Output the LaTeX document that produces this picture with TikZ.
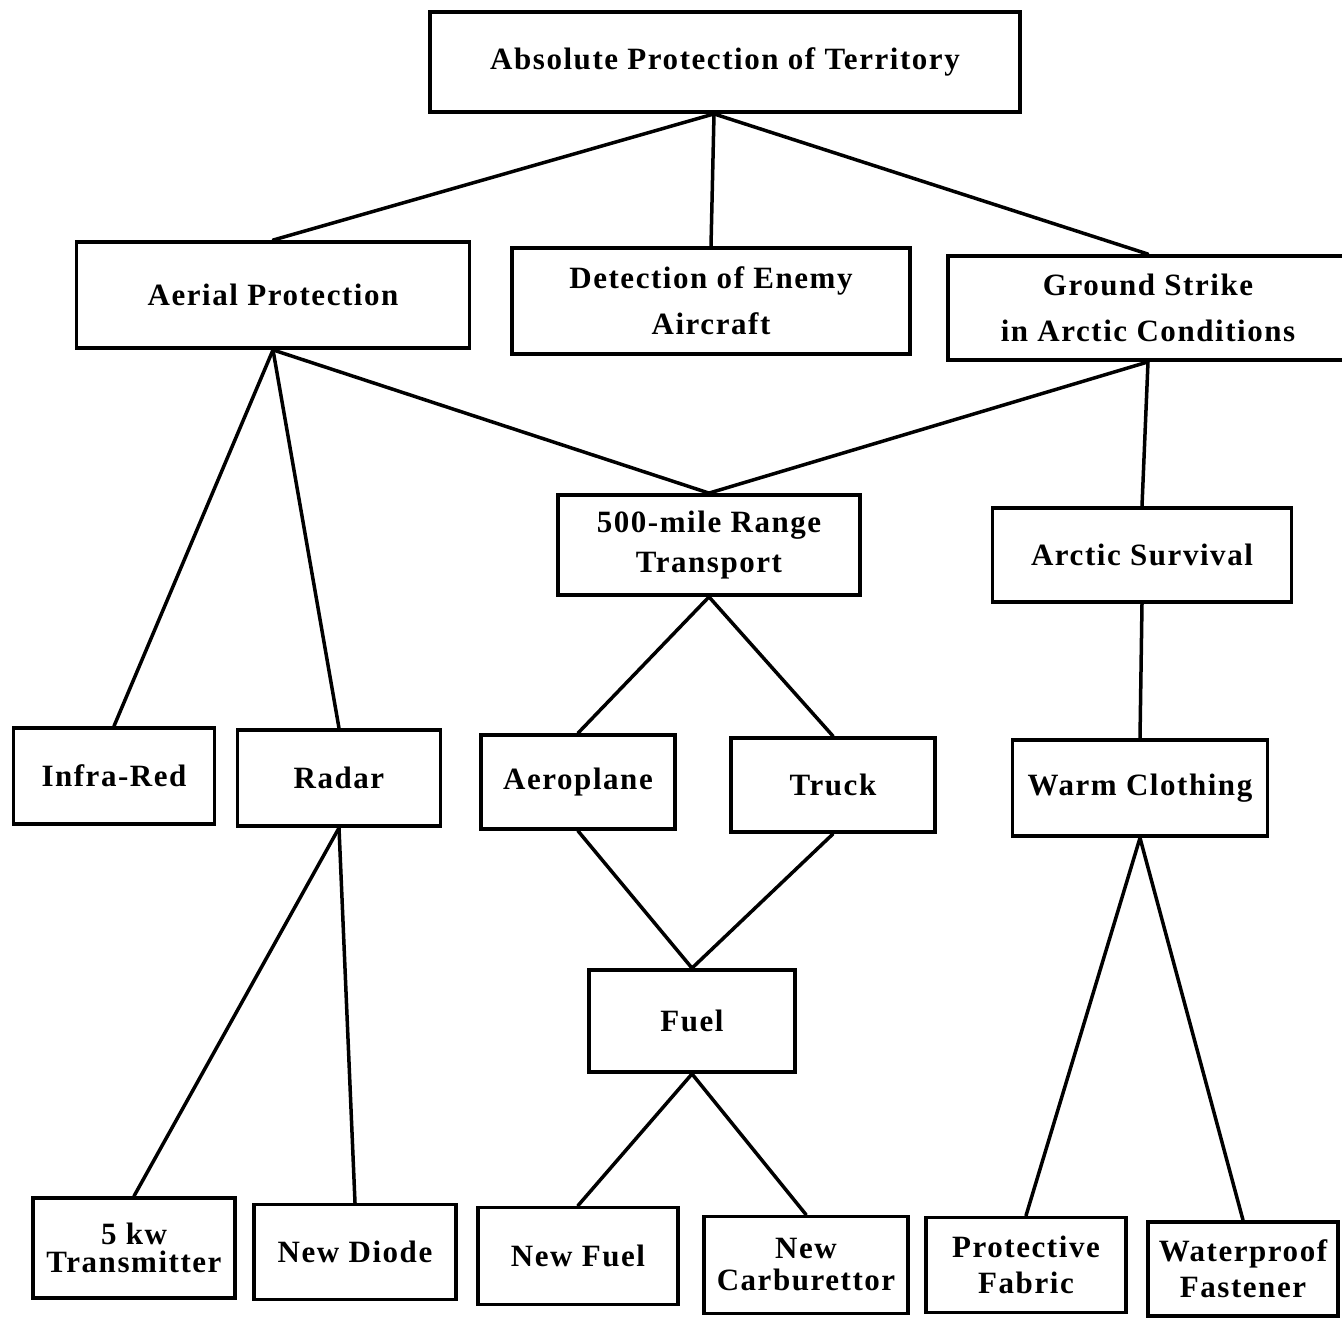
\documentclass[tikz,border=0pt]{standalone}
\usepackage{fontspec}
\setmainfont{Liberation Serif}[LetterSpace=5]
\usetikzlibrary{calc}
\begin{document}
\begin{tikzpicture}[x=1pt,y=-1pt,
  box/.style={draw, line width=3.8pt, align=center, inner sep=0pt,
    font=\fontsize{31}{46}\selectfont\bfseries},
  link/.style={line width=3.5pt, line cap=round}]
\useasboundingbox (0,0) rectangle (1342,1318);
% boxes: center (cx,cy), width, height
\node[box, minimum width=590pt, minimum height=100pt] (top) at (725,62) {Absolute Protection of Territory};
\node[box, minimum width=393pt, minimum height=106pt] (aer) at (273,295) {Aerial Protection};
\node[box, minimum width=398pt, minimum height=106pt] (det) at (711,301) {Detection of Enemy\\Aircraft};
\node[box, minimum width=400pt, minimum height=104pt] (gro) at (1148,308) {Ground Strike\\in Arctic Conditions};
\node[box, minimum width=302pt, minimum height=100pt] (tra) at (709,545) {500-mile Range\\[-6pt]Transport};
\node[box, minimum width=299pt, minimum height=94pt] (arc) at (1142,555) {Arctic Survival};
\node[box, minimum width=201pt, minimum height=96pt] (inf) at (114,776) {Infra-Red};
\node[box, minimum width=203pt, minimum height=96pt] (rad) at (339,778) {Radar};
\node[box, minimum width=194pt, minimum height=94pt] (aep) at (578,782) {Aeroplane};
\node[box, minimum width=204pt, minimum height=94pt] (tru) at (833,785) {Truck};
\node[box, minimum width=255pt, minimum height=96pt] (war) at (1140,788) {Warm Clothing};
\node[box, minimum width=206pt, minimum height=102pt] (fue) at (692,1021) {Fuel};
\node[box, minimum width=202pt, minimum height=100pt] (kw) at (134,1248) {5 kw\\[-18pt]Transmitter};
\node[box, minimum width=202pt, minimum height=95pt] (dio) at (355,1252) {New Diode};
\node[box, minimum width=200pt, minimum height=97pt] (nfu) at (578,1256) {New Fuel};
\node[box, minimum width=204pt, minimum height=97pt] (car) at (806,1265) {New\\[-14pt]Carburettor};
\node[box, minimum width=200pt, minimum height=95pt] (fab) at (1026,1265) {Protective\\[-10pt]Fabric};
\node[box, minimum width=190pt, minimum height=94pt] (fas) at (1243,1269) {Waterproof\\[-10pt]Fastener};
% connectors
\coordinate (topb) at ($(top.south)+(-11,0)$);
\draw[link] (topb) -- (aer.north);
\draw[link] (topb) -- (det.north);
\draw[link] (topb) -- (gro.north);
\draw[link] (aer.south) -- (inf.north);
\draw[link] (aer.south) -- (rad.north);
\draw[link] (aer.south) -- (tra.north);
\draw[link] (gro.south) -- (tra.north);
\draw[link] (gro.south) -- (arc.north);
\draw[link] (tra.south) -- (aep.north);
\draw[link] (tra.south) -- (tru.north);
\draw[link] (arc.south) -- (war.north);
\draw[link] (rad.south) -- (kw.north);
\draw[link] (rad.south) -- (dio.north);
\draw[link] (aep.south) -- (fue.north);
\draw[link] (tru.south) -- (fue.north);
\draw[link] (fue.south) -- (nfu.north);
\draw[link] (fue.south) -- (car.north);
\draw[link] (war.south) -- (fab.north);
\draw[link] (war.south) -- (fas.north);
\end{tikzpicture}
\end{document}
